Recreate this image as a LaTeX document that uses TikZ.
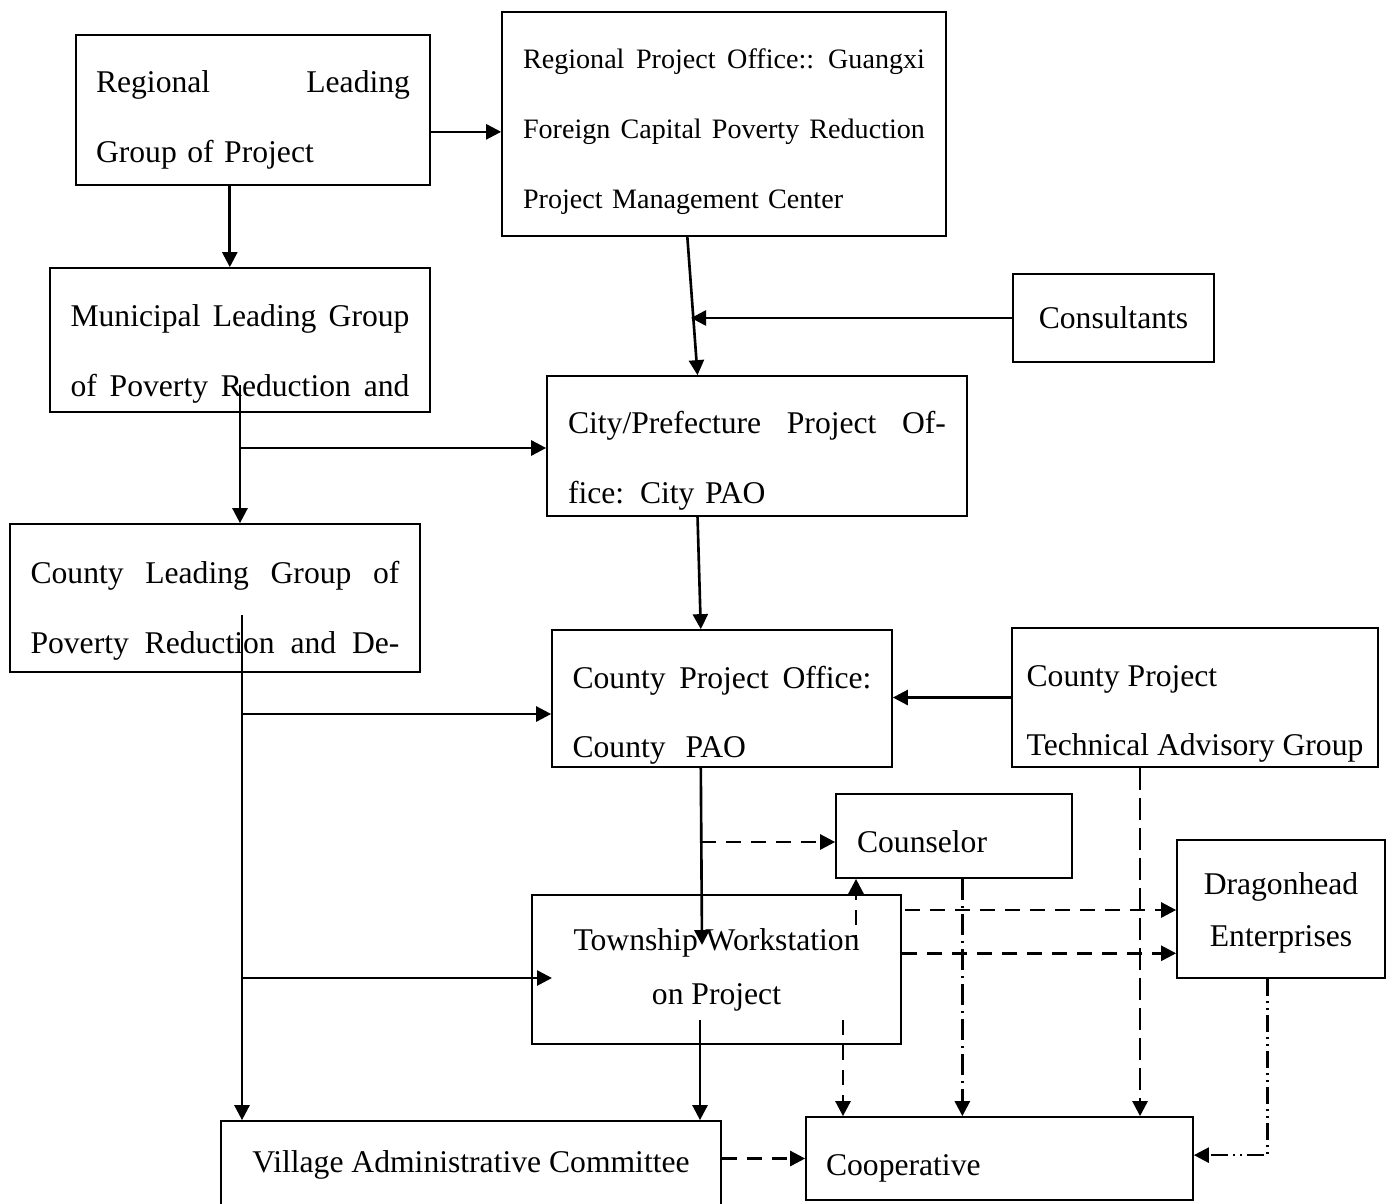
\documentclass[tikz,border=0pt]{standalone}
\usepackage{fontspec}
\setmainfont{Liberation Serif}
\usetikzlibrary{arrows,arrows.meta}
\newcommand{\fline}[2]{\makebox[#1][s]{\spaceskip=0.25em plus 1fil\relax #2}}
\newcommand{\lift}[1]{\rule{0pt}{#1}}

\begin{document}
\begin{tikzpicture}[x=0.02cm,y=-0.02cm,
	box/.style={draw,line width=1pt,inner sep=0pt,font=\fontsize{18}{39.7}\selectfont},
	flow/.style={line width=1.5pt,-{Triangle[length=0.3cm,width=0.3cm]}},
	dashflow/.style={flow,dash pattern=on 0.3cm off 0.2cm},
	longflow/.style={flow,dash pattern=on 0.44cm off 0.16cm},
	dotflow/.style={flow,dash pattern=on 0.42cm off 0.12cm on 0.04cm off 0.12cm},
	dotsflow/.style={flow,dash pattern=on 0.34cm off 0.1cm on 0.04cm off 0.1cm on 0.04cm off 0.1cm}]
			\useasboundingbox (0,0) rectangle (1391,1203);

			\node[box,minimum width=7.08cm,minimum height=3cm,text width=6.28cm] (RLG) at (253,110) {\lift{24pt}\fline{6.28cm}{Regional Leading}\\Group of Project};
			\node[box,minimum width=8.88cm,minimum height=4.48cm,text width=8.04cm,font=\fontsize{16}{39.7}\selectfont] (RPO) at (724,124) {\lift{20pt}\fline{8.04cm}{Regional Project Office:: Guangxi}\\\fline{8.04cm}{Foreign Capital Poverty Reduction}\\Project Management Center};
			\node[box,minimum width=7.6cm,minimum height=2.88cm,text width=6.78cm] (MLG) at (240,340) {\lift{28.5pt}\fline{6.78cm}{Municipal Leading Group}\\\fline{6.78cm}{of Poverty Reduction and}};
			\node[box,minimum width=4.02cm,minimum height=1.76cm] (CONS) at (1113.5,318) {Consultants};
			\node[box,minimum width=8.4cm,minimum height=2.8cm,text width=7.56cm] (CITY) at (757,446) {\lift{29.5pt}\fline{7.56cm}{City/Prefecture Project Of-}\\fice: City PAO};
			\node[box,minimum width=8.2cm,minimum height=2.96cm,text width=7.38cm] (CLG) at (215,598) {\lift{27.3pt}\fline{7.38cm}{County Leading Group of}\\\fline{7.38cm}{Poverty Reduction and De-}};
			\node[box,minimum width=6.8cm,minimum height=2.74cm,text width=5.98cm] (CPAO) at (722,698.5) {\lift{31.7pt}\fline{5.98cm}{County Project Office:}\\County\hspace{0.3em} PAO};
			\node[box,minimum width=7.32cm,minimum height=2.78cm,align=left] (TAG) at (1195,697.5) {\lift{30.6pt}County Project\\Technical Advisory Group};
			\node[box,minimum width=4.72cm,minimum height=1.68cm,text width=3.88cm,align=left] (COUN) at (954,836) {\lift{19.3pt}Counselor};
			\node[box,minimum width=4.16cm,minimum height=2.76cm,align=center,font=\fontsize{18}{30}\selectfont] (DRAG) at (1281,909) {\lift{17pt}Dragonhead\\Enterprises};
			\node[box,minimum width=7.38cm,minimum height=2.98cm,align=center,font=\fontsize{18}{30.6}\selectfont] (TOWN) at (716.5,969.5) {Township Workstation\\on Project};
			\node[box,minimum width=10cm,minimum height=1.76cm] (VILL) at (471,1165) {Village Administrative Committee};
			\node[box,minimum width=7.74cm,minimum height=1.66cm,text width=6.94cm,align=left] (COOP) at (999.5,1158.5) {\lift{22.6pt}Cooperative};

			\coordinate (CJ) at (691,318);
			\coordinate (M1) at (240,385);
			\coordinate (M2) at (240,448);
			\coordinate (C1) at (242,615);
			\coordinate (C2) at (242,714);
			\coordinate (C3) at (242,978);
			\coordinate (TW) at (552,978);
			\coordinate (T1) at (702,945);
			\coordinate (P1) at (701,842);
			\coordinate (T2) at (700,1020);
			\coordinate (T3) at (843,1020);
			\coordinate (T4) at (856,950);
			\coordinate (T5) at (905,910);

			\path[flow]
			(RLG.-7.4) edge (RLG.-7.4 -| RPO.west)
			(RLG.-107) edge (RLG.-107 |- MLG.north)
			(RPO.-108.3) edge (CITY.130.6)
			(CONS.west) edge (CJ)
			(M1) edge (M1 |- CLG.north)
			(M2) edge (M2 -| CITY.west)
			(C1) edge (C1 |- VILL.north)
			(C2) edge (C2 -| CPAO.west)
			(C3) edge (TW)
			(CITY.-130.6) edge (CPAO.107.8)
			(TAG.west) edge (TAG.west -| CPAO.east)
			(CPAO.-107.8) edge (T1)
			(T2) edge (T2 |- VILL.north)
			;
			\path[dashflow]
			(P1) edge (P1 -| COUN.west)
			(T3) edge (T3 |- COOP.north)
			(T4) edge (T4 |- COUN.south)
			(T5) edge (T5 -| DRAG.west)
			(TOWN.5.1) edge (TOWN.5.1 -| DRAG.west)
			(COOP.west -| VILL.east) edge (COOP.west)
			;
			\path[longflow] (TAG.-128.4) edge (TAG.-128.4 |- COOP.north);
			\path[dotflow] (COUN.-79.2) edge (COUN.-79.2 |- COOP.north);
			\draw[dotsflow] (DRAG.-101.5) |- (COOP.1.9);
		\end{tikzpicture}
\end{document}
